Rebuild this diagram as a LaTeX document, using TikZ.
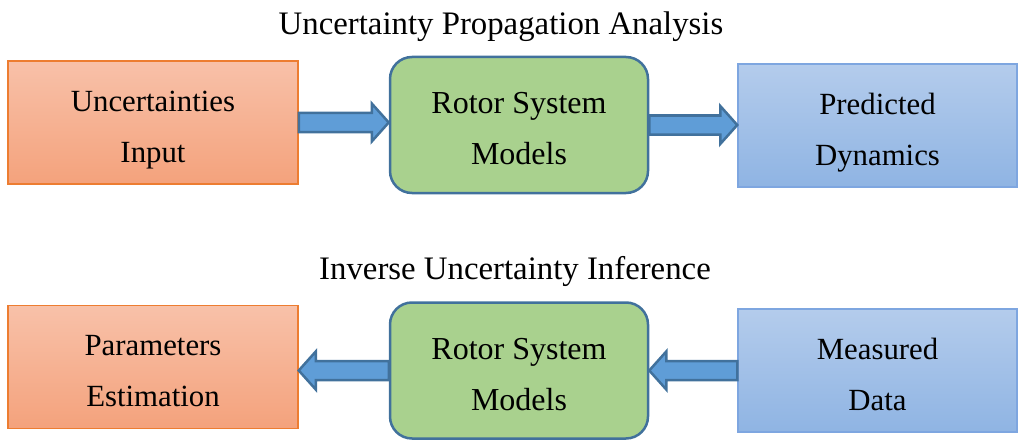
\documentclass[tikz,border=0pt]{standalone}
\usepackage{fontspec}
\setmainfont{Liberation Serif}
\usetikzlibrary{calc}
\definecolor{InputTop}{HTML}{F8C1A9}
\definecolor{InputBottom}{HTML}{F4A27C}
\definecolor{InputLine}{HTML}{ED7D31}
\definecolor{ModelFill}{HTML}{A9D18E}
\definecolor{ModelLine}{HTML}{41719C}
\definecolor{OutputTop}{HTML}{B4CCEC}
\definecolor{OutputBottom}{HTML}{8FB4E3}
\definecolor{OutputLine}{HTML}{7EA6E0}
\definecolor{ArrowFill}{HTML}{5F9DD7}

% block arrow from one node anchor to another (horizontal)
\newcommand{\flowarrow}[2]{%
  \draw[flowarrow] let \p1=(#1), \p2=(#2), \n1={sign(\x2-\x1)} in
    (\x1,\y1+9.5pt) -- ({\x2-17pt*(\n1)},\y1+9.5pt) -- ({\x2-17pt*(\n1)},\y1+19pt)
    -- (\x2,\y1) -- ({\x2-17pt*(\n1)},\y1-19pt) -- ({\x2-17pt*(\n1)},\y1-9.5pt)
    -- (\x1,\y1-9.5pt) -- cycle;}

\begin{document}
\begin{tikzpicture}[x=1pt, y=1pt,
    txt/.style={font=\fontsize{30.8}{51}\selectfont, align=center, inner sep=0pt,
      text height=85pt, text depth=6pt},
    inbox/.style={txt, minimum width=290, minimum height=123,
      top color=InputTop, bottom color=InputBottom, draw=InputLine, line width=1.5},
    modelbox/.style={txt, font=\fontsize{32}{51}\selectfont, minimum width=258,
      minimum height=136, rounded corners=22,
      fill=ModelFill, draw=ModelLine, line width=2.5},
    outbox/.style={txt, minimum width=279, minimum height=123,
      top color=OutputTop, bottom color=OutputBottom, draw=OutputLine, line width=1.5},
    heading/.style={font=\fontsize{32.8}{36}\selectfont, inner sep=0pt},
    flowarrow/.style={fill=ArrowFill, draw=ModelLine, line width=2.5, line join=miter}]
  \useasboundingbox (0,0) rectangle (1019,440);

  % Forward problem
  \node[heading, anchor=base] (fwdtitle) at (501,405) {Uncertainty Propagation Analysis};
  \node[inbox] (unc) at (153,317.5) {Uncertainties\\Input};
  \node[modelbox] (rotorA) at (519,315) {Rotor System\\Models};
  \node[outbox] (pred) at (877.5,314.5) {Predicted\\Dynamics};
  \flowarrow{unc.east}{rotorA.west}
  \flowarrow{rotorA.east}{pred.west}

  % Inverse problem
  \node[heading, anchor=base] (invtitle) at (515,161) {Inverse Uncertainty Inference};
  \node[inbox] (param) at (153,73) {Parameters\\Estimation};
  \node[modelbox] (rotorB) at (519,69.5) {Rotor System\\Models};
  \node[outbox] (meas) at (877.5,69.5) {Measured\\Data};
  \flowarrow{rotorB.west}{param.east}
  \flowarrow{meas.west}{rotorB.east}
\end{tikzpicture}
\end{document}
